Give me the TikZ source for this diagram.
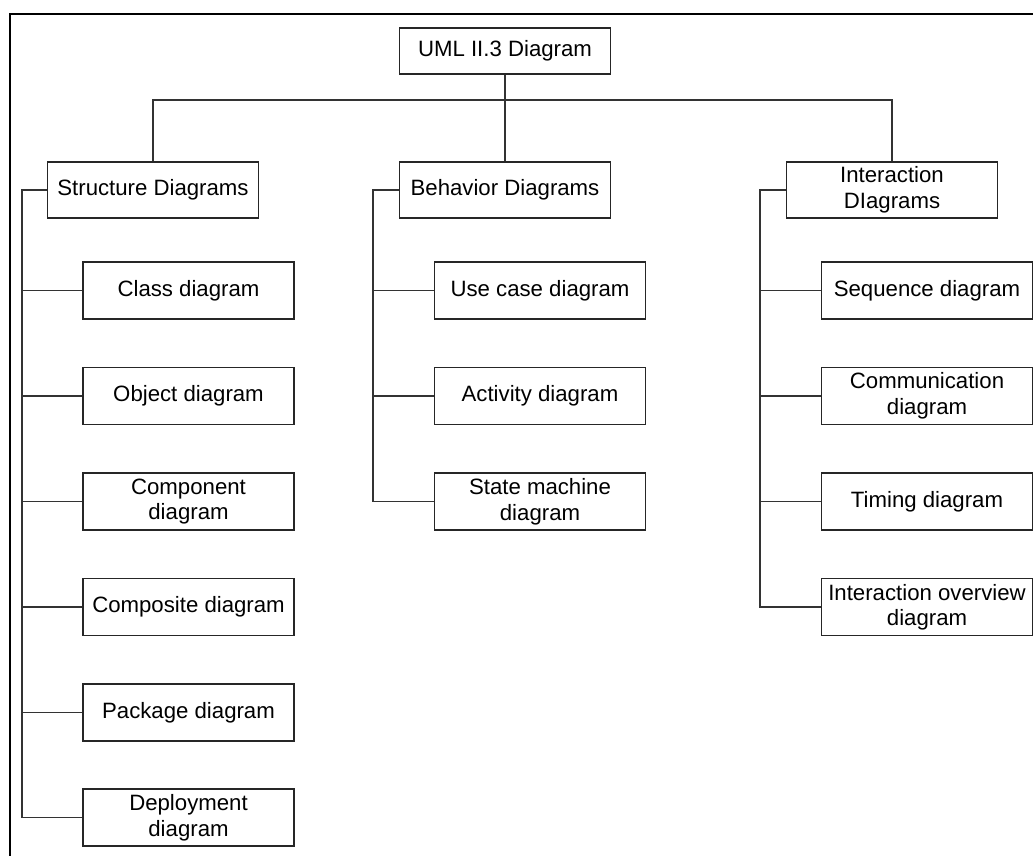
\documentclass[tikz,border=0pt]{standalone}
\usepackage{fontspec}
\setmainfont{Liberation Sans}
\usepackage{tikz}

\begin{document}
\begin{tikzpicture}[x=1pt, y=-1pt,
        box/.style={rectangle, draw=black!85, line width=1.2pt, minimum width=211pt,
            minimum height=57pt, inner xsep=2pt, inner ysep=1pt, align=center,
            font=\fontsize{22.2}{25.5}\selectfont},
        topbox/.style={box, minimum height=56pt},
        link/.style={draw=black!80, line width=1.1pt}]
        \useasboundingbox (0, 0) rectangle (1033, 855);

        % Draw frame
        \draw[line width=2pt] (1040, 14) -- (9.5, 14) -- (9.5, 860);

        % Draw vertices
        \node[topbox, minimum height=46pt] (uml) at (505, 51) {UML II.3 Diagram};
        \node[topbox] (sd) at (153, 190) {Structure Diagrams};
        \node[topbox] (bd) at (505, 190) {Behavior Diagrams};
        \node[topbox] (id) at (892, 190) {Interaction\\DIagrams};

        \node[box] (cls) at (188.5, 290.5) {Class diagram};
        \node[box] (obj) at (188.5, 396) {Object diagram};
        \node[box] (cmp) at (188.5, 501.5) {Component\\diagram};
        \node[box] (cst) at (188.5, 607) {Composite diagram};
        \node[box] (pkg) at (188.5, 712.5) {Package diagram};
        \node[box] (dep) at (188.5, 817.5) {Deployment\\diagram};

        \node[box] (use) at (540, 290.5) {Use case diagram};
        \node[box] (act) at (540, 396) {Activity diagram};
        \node[box] (stm) at (540, 501.5) {State machine\\diagram};

        \node[box] (seq) at (927, 290.5) {Sequence diagram};
        \node[box] (com) at (927, 396) {Communication\\diagram};
        \node[box] (tim) at (927, 501.5) {Timing diagram};
        \node[box] (ovr) at (927, 607) {Interaction overview\\diagram};

        \coordinate (bus) at (505, 100);
        \coordinate (sbus) at (22, 190);
        \coordinate (bbus) at (373, 190);
        \coordinate (ibus) at (760, 190);

        % Draw edges
        \draw[link] (uml) -- (bd);
        \draw[link] (sd) |- (bus) -| (id);
        \draw[link] (sd) -- (sbus) |- (dep);
        \draw[link] (cls) -- (sbus |- cls.west);
        \draw[link] (obj) -- (sbus |- obj.west);
        \draw[link] (cmp) -- (sbus |- cmp.west);
        \draw[link] (cst) -- (sbus |- cst.west);
        \draw[link] (pkg) -- (sbus |- pkg.west);
        \draw[link] (bd) -- (bbus) |- (stm);
        \draw[link] (use) -- (bbus |- use.west);
        \draw[link] (act) -- (bbus |- act.west);
        \draw[link] (id) -- (ibus) |- (ovr);
        \draw[link] (seq) -- (ibus |- seq.west);
        \draw[link] (com) -- (ibus |- com.west);
        \draw[link] (tim) -- (ibus |- tim.west);
\end{tikzpicture}
\end{document}
